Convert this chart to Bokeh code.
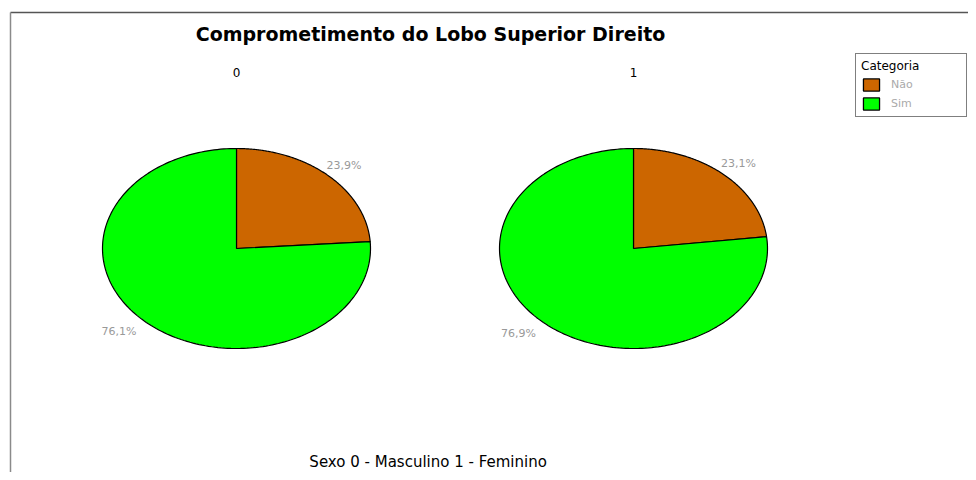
import numpy as np
from bokeh.plotting import figure
from bokeh.models import Range1d, Legend, LegendItem
from bokeh.core.properties import value
from bokeh.embed import file_html
from bokeh.resources import INLINE

# ---- data ----
title_text = "Comprometimento do Lobo Superior Direito"
xlabel_text = "Sexo 0 - Masculino  1 - Feminino"
groups = ["0", "1"]
categories = ["Não", "Sim"]
nao_pct = [23.9, 23.1]
sim_pct = [76.1, 76.9]
colors = ["#CC6600", "#00FF00"]

# ---- layout (pixels of the canvas) ----
W, H = 968, 472
centers_x = [236, 633]
center_y = 248
rx, ry = 134, 100

p = figure(width=W, height=H, output_backend="svg", toolbar_location=None,
           x_range=Range1d(0, W), y_range=Range1d(H, 0),
           min_border=0, outline_line_color=None)
p.axis.visible = False
p.grid.visible = False
p.background_fill_color = "white"
p.border_fill_color = "white"

# frame lines (top darker, left lighter)
p.segment(x0=[10], y0=[12], x1=[W], y1=[12], line_color="#555555", line_width=1.5)
p.segment(x0=[10], y0=[12], x1=[10], y1=[H], line_color="#8a8a8a", line_width=1.5)

renderers = {c: [] for c in categories}
for gi, g in enumerate(groups):
    cx = centers_x[gi]
    vals = [nao_pct[gi], sim_pct[gi]]
    total = sum(vals)
    start = 90.0
    for ci, (cat, v) in enumerate(zip(categories, vals)):
        sweep = 360.0 * v / total
        end = start - sweep
        th = np.radians(np.linspace(start, end, 200))
        xs = [cx] + list(cx + rx * np.cos(th)) + [cx]
        ys = [center_y] + list(center_y - ry * np.sin(th)) + [center_y]
        r = p.patch(xs, ys, fill_color=colors[ci], line_color="black", line_width=1.2)
        renderers[cat].append(r)
        mid = np.radians((start + end) / 2)
        lx = cx + rx * 1.04 * np.cos(mid)
        ly = center_y - ry * 1.14 * np.sin(mid)
        lab = f"{v:.1f}%".replace(".", ",")
        p.text(x=[lx], y=[ly], text=[lab], text_align="left" if np.cos(mid) > 0 else "right",
               text_baseline="middle", x_offset=-5, text_color="#999999",
               text_font=value("DejaVu Sans"), text_font_size="11px")
        start = end
    # group label
    p.text(x=[cx], y=[72], text=[g], text_align="center", text_baseline="middle",
           text_color="black", text_font=value("DejaVu Sans"), text_font_size="12px")

# title
p.text(x=[430], y=[33], text=[title_text], text_align="center", text_baseline="middle",
       text_color="black", text_font=value("DejaVu Sans"), text_font_style="bold",
       text_font_size="19px")
# bottom label
p.text(x=[430], y=[461], text=[xlabel_text], text_align="center", text_baseline="middle",
       text_color="black", text_font=value("DejaVu Sans"), text_font_size="15px")

legend = Legend(items=[LegendItem(label=c, renderers=renderers[c]) for c in categories],
                title="Categoria", location=(855, H - 117), orientation="vertical",
                padding=5, spacing=4, margin=0, glyph_width=20, glyph_height=15,
                label_standoff=10, label_width=70, label_height=15,
                label_text_color="#aaaaaa", label_text_font="DejaVu Sans",
                label_text_font_size="11px", title_text_font="DejaVu Sans",
                title_text_font_size="12px", title_text_font_style="normal",
                title_text_color="black", title_standoff=4,
                border_line_color="black", border_line_width=1.5,
                background_fill_color="white", background_fill_alpha=1.0)
p.add_layout(legend, "center")

open("out.html", "w").write(file_html(p, INLINE))
